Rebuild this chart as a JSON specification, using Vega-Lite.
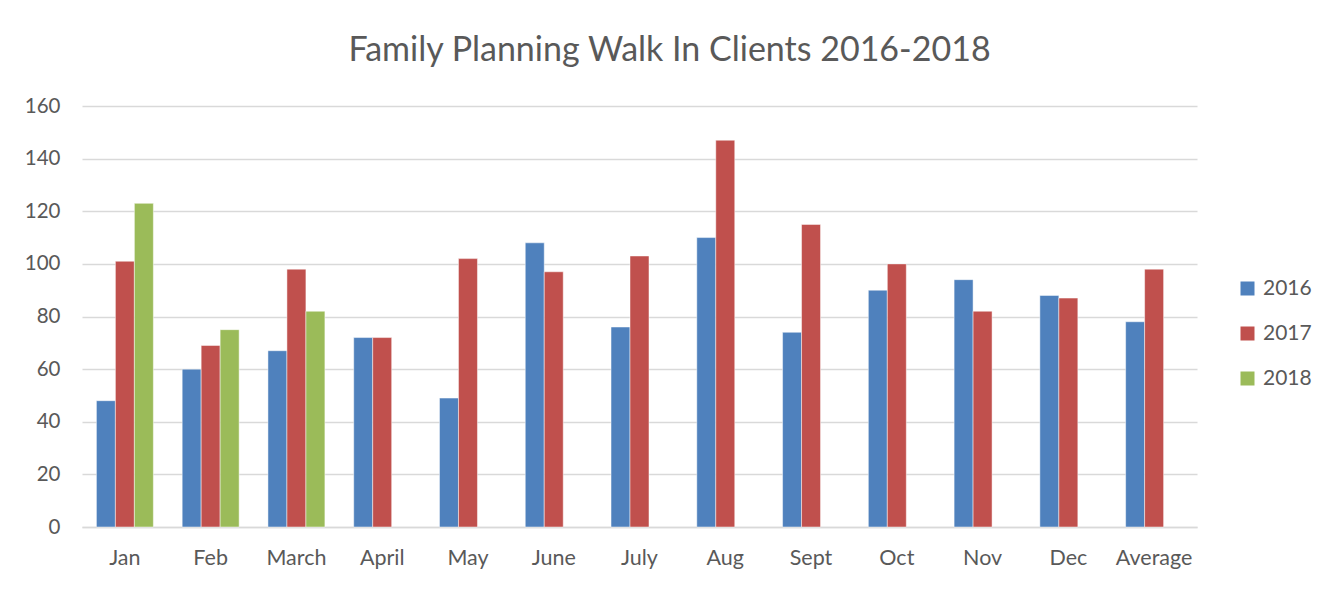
{
  "$schema": "https://vega.github.io/schema/vega-lite/v6.json",
  "autosize": {"type": "none"},
  "padding": {"left": 82, "top": 106, "right": 132, "bottom": 62},
  "width": 1115,
  "height": 421,
  "background": "#ffffff",
  "title": {
    "text": "Family Planning Walk In Clients 2016-2018",
    "fontSize": 34,
    "font": "Lato",
    "fontWeight": "normal",
    "color": "#595959",
    "anchor": "middle",
    "frame": "group",
    "baseline": "alphabetic",
    "offset": 1,
    "dx": 30
  },
  "data": {
    "values": [
      {"month": "Jan", "year": "2016", "value": 48},
      {"month": "Jan", "year": "2017", "value": 101},
      {"month": "Jan", "year": "2018", "value": 123},
      {"month": "Feb", "year": "2016", "value": 60},
      {"month": "Feb", "year": "2017", "value": 69},
      {"month": "Feb", "year": "2018", "value": 75},
      {"month": "March", "year": "2016", "value": 67},
      {"month": "March", "year": "2017", "value": 98},
      {"month": "March", "year": "2018", "value": 82},
      {"month": "April", "year": "2016", "value": 72},
      {"month": "April", "year": "2017", "value": 72},
      {"month": "May", "year": "2016", "value": 49},
      {"month": "May", "year": "2017", "value": 102},
      {"month": "June", "year": "2016", "value": 108},
      {"month": "June", "year": "2017", "value": 97},
      {"month": "July", "year": "2016", "value": 76},
      {"month": "July", "year": "2017", "value": 103},
      {"month": "Aug", "year": "2016", "value": 110},
      {"month": "Aug", "year": "2017", "value": 147},
      {"month": "Sept", "year": "2016", "value": 74},
      {"month": "Sept", "year": "2017", "value": 115},
      {"month": "Oct", "year": "2016", "value": 90},
      {"month": "Oct", "year": "2017", "value": 100},
      {"month": "Nov", "year": "2016", "value": 94},
      {"month": "Nov", "year": "2017", "value": 82},
      {"month": "Dec", "year": "2016", "value": 88},
      {"month": "Dec", "year": "2017", "value": 87},
      {"month": "Average", "year": "2016", "value": 78},
      {"month": "Average", "year": "2017", "value": 98}
    ]
  },
  "mark": {"type": "bar", "stroke": "#ffffff", "strokeWidth": 0.8, "strokeOpacity": 0.6},
  "encoding": {
    "x": {
      "field": "month",
      "type": "nominal",
      "sort": ["Jan", "Feb", "March", "April", "May", "June", "July", "Aug", "Sept", "Oct", "Nov", "Dec", "Average"],
      "scale": {"paddingInner": 0.336, "paddingOuter": 0.168},
      "axis": {
        "title": null,
        "labelAngle": 0,
        "labelFont": "Lato",
        "labelFontSize": 21.5,
        "labelColor": "#595959",
        "labelPadding": 20,
        "ticks": false,
        "domainColor": "#d9d9d9",
        "domainWidth": 1.5,
        "grid": false
      }
    },
    "xOffset": {"field": "year", "type": "nominal", "scale": {"domain": ["2016", "2017", "2018"]}},
    "y": {
      "field": "value",
      "type": "quantitative",
      "scale": {"domain": [0, 160]},
      "axis": {
        "title": null,
        "values": [0, 20, 40, 60, 80, 100, 120, 140, 160],
        "labelFont": "Lato",
        "labelFontSize": 20.5,
        "labelColor": "#595959",
        "labelPadding": 22,
        "ticks": false,
        "domain": false,
        "gridColor": "#d9d9d9",
        "gridWidth": 1.5
      }
    },
    "color": {
      "field": "year",
      "type": "nominal",
      "scale": {"domain": ["2016", "2017", "2018"], "range": ["#4F81BD", "#C0504D", "#9BBB59"]},
      "legend": {
        "title": null,
        "orient": "none",
        "legendX": 1155,
        "legendY": 172,
        "symbolType": "square",
        "symbolSize": 196,
        "symbolStrokeWidth": 0,
        "labelFont": "Lato",
        "labelFontSize": 21,
        "labelColor": "#595959",
        "labelOffset": 5,
        "rowPadding": 23,
        "padding": 0
      }
    }
  },
  "config": {"view": {"stroke": null}}
}
